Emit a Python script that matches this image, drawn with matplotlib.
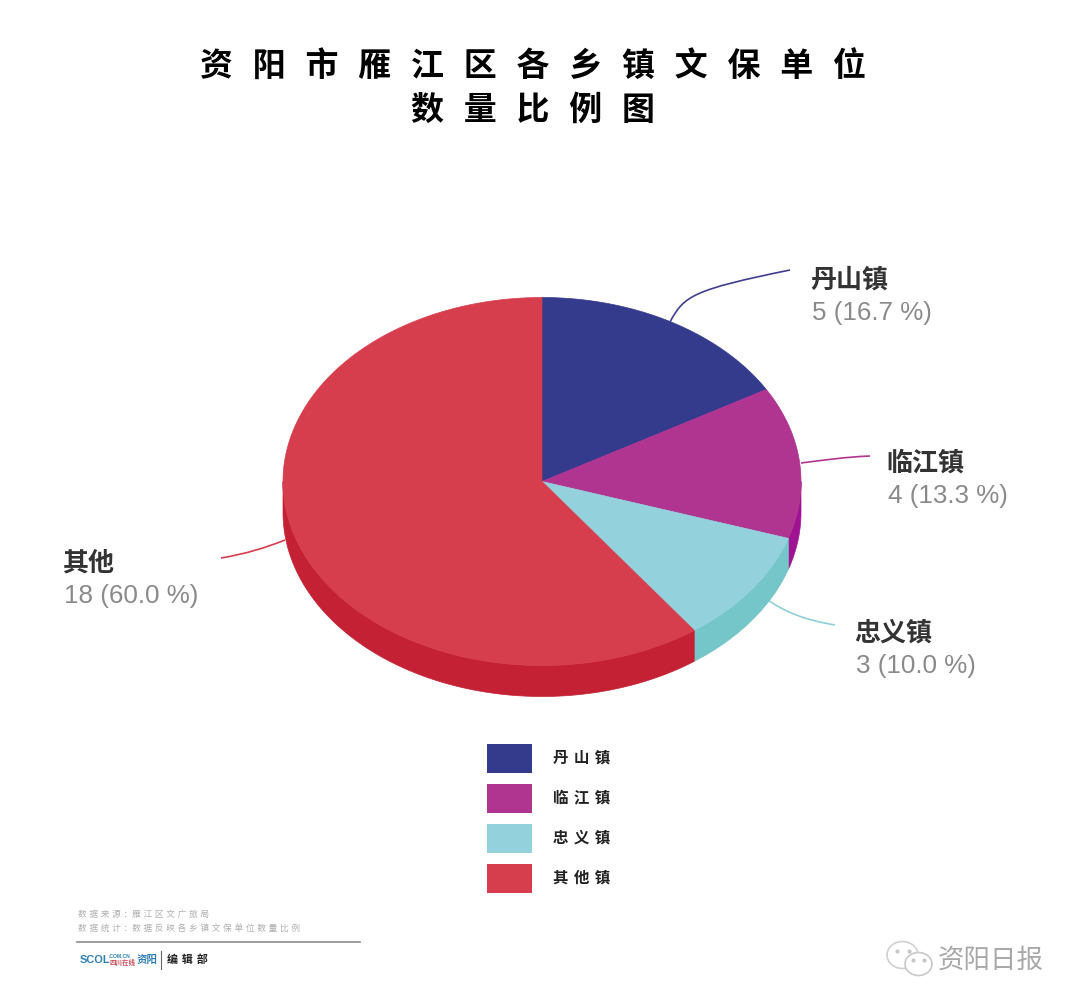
import numpy as np
import matplotlib
matplotlib.use('Agg')
import matplotlib.pyplot as plt
from matplotlib.patches import Ellipse, Rectangle, PathPatch
from matplotlib.path import Path

gap = ' \u2005'
title = gap.join('资阳市雁江区各乡镇文保单位') + '\n' + gap.join('数量比例图')
towns = ['丹山镇', '临江镇', '忠义镇', '其他']
legend_names = ['丹 山 镇', '临 江 镇', '忠 义 镇', '其 他 镇']
counts = [5, 4, 3, 18]
top_colors = ['#343a8c', '#b03590', '#93d2dc', '#d63e4e']
side_colors = ['#262b75', '#a01390', '#74c6c8', '#c42234']
line_colors = ['#3f3f8f', '#b03590', '#8fd0d8', '#d63e4e']
source_lines = ['数 据 来 源 ：雁 江 区 文 广 旅 局', '数 据 统 计 ：数 据 反 映 各 乡 镇 文 保 单 位 数 量 比 例']

CJK = ['DejaVu Sans', 'Noto Sans CJK SC']
px = 0.72  # px -> pt at dpi 100

fig = plt.figure(figsize=(10.8, 10.08), dpi=100, facecolor='white')
ax = fig.add_axes([0, 0, 1, 1])
ax.set_xlim(0, 1080)
ax.set_ylim(1008, 0)
ax.axis('off')

cx, cy, rx, ry, depth = 542, 481.5, 259, 184, 31
total = sum(counts)
edges = np.cumsum([0] + counts) / total * 360


def arc(t0, t1, dy=0):
    t = np.radians(np.linspace(t0, t1, 200))
    return cx + rx * np.sin(t), cy - ry * np.cos(t) + dy


# side wall, front half only
for i in range(4):
    t0, t1 = max(edges[i], 90), min(edges[i + 1], 270)
    if t1 <= t0:
        continue
    xa, ya = arc(t0, t1)
    xb, yb = arc(t0, t1, depth)
    ax.fill(np.r_[xa, xb[::-1]], np.r_[ya, yb[::-1]], color=side_colors[i], lw=0.5, zorder=2)

# top face
for i in range(4):
    xa, ya = arc(edges[i], edges[i + 1])
    ax.fill(np.r_[cx, xa], np.r_[cy, ya], color=top_colors[i], lw=0.5, zorder=3)

# leader lines
leaders = [
    [(670, 322), (684, 296), (692, 290), (790, 270)],
    [(801, 463), (825, 460), (845, 457), (870, 456)],
    [(768, 600), (785, 612), (805, 620), (835, 625)],
    [(285, 540), (265, 548), (245, 554), (221, 558)],
]
for pts, c in zip(leaders, line_colors):
    ax.add_patch(PathPatch(Path(pts, [Path.MOVETO, Path.CURVE4, Path.CURVE4, Path.CURVE4]),
                           fc='none', ec=c, lw=1.2, zorder=1))

# data labels
label_pos = [(810, 280), (886, 463), (854, 633), (62, 563)]
for name, n, (x, y) in zip(towns, counts, label_pos):
    ax.text(x, y, name, family='Noto Sans CJK SC', weight='bold', fontsize=26 * px,
            color='#333333', ha='left', va='center')
    ax.text(x + 2, y + 33, f'{n} ({n / total * 100:.1f} %)', family='Liberation Sans',
            fontsize=26 * px, color='#8a8a8a', ha='left', va='center')

ax.text(533, 89, title, family=CJK, weight='bold', fontsize=33 * px, color='black',
        ha='center', va='center', linespacing=1.37)

# legend
for i, name in enumerate(legend_names):
    ax.add_patch(Rectangle((487, 744 + 40 * i), 45, 29, color=top_colors[i], lw=0))
    ax.text(553, 758 + 40 * i, name, family=CJK, weight='bold', fontsize=15.5 * px,
            color='#222222', ha='left', va='center')

# footer
ax.text(78, 914, source_lines[0], family=CJK, fontsize=8.7 * px, color='#b0b0b0', ha='left', va='center')
ax.text(78, 928, source_lines[1], family=CJK, fontsize=8.7 * px, color='#b0b0b0', ha='left', va='center')
ax.plot([77, 360], [942, 942], color='#8c8c8c', lw=1.2)
ax.text(80, 960, 'SCOL', family='Liberation Sans', weight='bold', fontsize=11 * px, color='#2f7fb5',
        ha='left', va='center')
ax.text(109, 956, '.COM.CN', family='Liberation Sans', weight='bold', fontsize=5 * px, color='#2f7fb5',
        ha='left', va='center')
ax.text(109, 962, '四川在线', family=CJK, weight='bold', fontsize=6.5 * px, color='#c8505a', ha='left', va='center')
ax.text(137, 960, '资阳', family=CJK, weight='bold', fontsize=10.5 * px, color='#2f7fb5', ha='left', va='center')
ax.plot([161, 161], [951, 969], color='#666666', lw=0.8)
ax.text(167, 960, '编 辑 部', family=CJK, weight='bold', fontsize=11 * px, color='#222222', ha='left', va='center')

# watermark
ax.add_patch(Ellipse((902.5, 955), 31, 27, fc='white', ec='#d0d0d0', lw=1.2))
ax.add_patch(Ellipse((918.5, 964), 27, 23, fc='white', ec='#c8c8c8', lw=1.2))
ax.plot([897, 909, 913, 924], [951, 951, 960, 960], ls='none', marker='o', ms=2, color='#c8c8c8')
ax.text(938, 960, '资阳日报', family='Noto Sans CJK SC', weight='light', fontsize=26.5 * px, color='#a8a8a8',
        ha='left', va='center')

fig.savefig('out.png', dpi=100, facecolor='white')
